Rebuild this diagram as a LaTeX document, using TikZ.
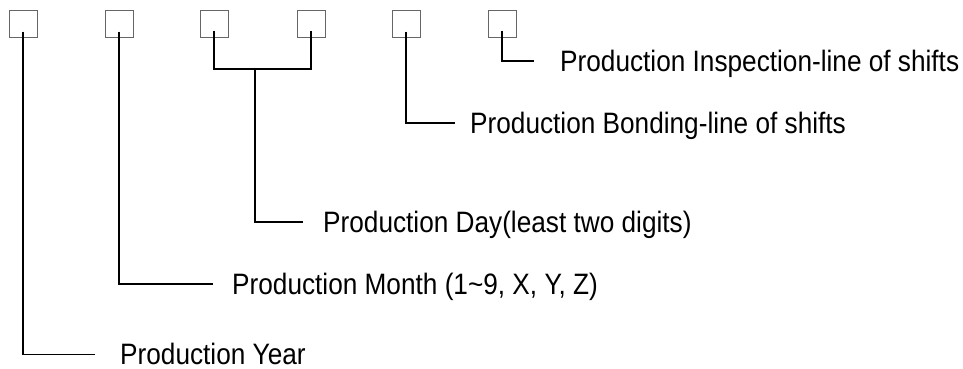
\documentclass[tikz,border=0pt]{standalone}
\usepackage{fontspec}
\setmainfont{Liberation Sans}[FakeStretch=0.888]
\begin{document}
\begin{tikzpicture}[x=1pt,y=-1pt,
  digit/.style={draw=black!60,line width=1pt,minimum width=28pt,minimum height=27pt,inner sep=0pt},
  conn/.style={draw=black,line width=1.4pt},
  lab/.style={anchor=base west,inner sep=0pt,font=\fontsize{29.5}{34}\selectfont}]
\useasboundingbox (0,0) rectangle (963,368);
% digit boxes
\node[digit] (b1) at (23,23.5) {};
\node[digit] (b2) at (119,23.5) {};
\node[digit] (b3) at (214,23.5) {};
\node[digit] (b4) at (311,23.5) {};
\node[digit] (b5) at (406,23.5) {};
\node[digit] (b6) at (502,23.5) {};
% labels (baseline = line y + half cap height)
\node[lab,text depth=0pt] (lyear)  at (120,364.5) {Production Year};
\node[lab] (lmonth) at (232,294.5) {Production Month (1\textasciitilde 9, X, Y, Z)};
\node[lab] (lday)   at (323,232.5) {Production Day(least two digits)};
\node[lab] (lbond)  at (470,133.5) {Production Bonding-line of shifts};
\node[lab] (linsp)  at (560,71.5)  {Production Inspection-line of shifts};
% connector end points
\coordinate (eyear)  at (95,354.5);
\coordinate (emonth) at (213,284);
\coordinate (eday)   at (303,222);
\coordinate (ebond)  at (455,123);
\coordinate (einsp)  at (534,61);
\coordinate (dl) at (214,69);
\coordinate (dr) at (311,69);
\coordinate (dm) at (255,69);
% connectors
\draw[conn] ([yshift=6]b1.south) |- (eyear);
\draw[conn] ([yshift=6]b2.south) |- (emonth);
\draw[conn] ([yshift=7]b3.south) -- (dl) -- (dr) -- ([yshift=7]b4.south);
\draw[conn] (dm) |- (eday);
\draw[conn] ([yshift=6]b5.south) |- (ebond);
\draw[conn] ([yshift=7]b6.south) |- (einsp);
\end{tikzpicture}
\end{document}
